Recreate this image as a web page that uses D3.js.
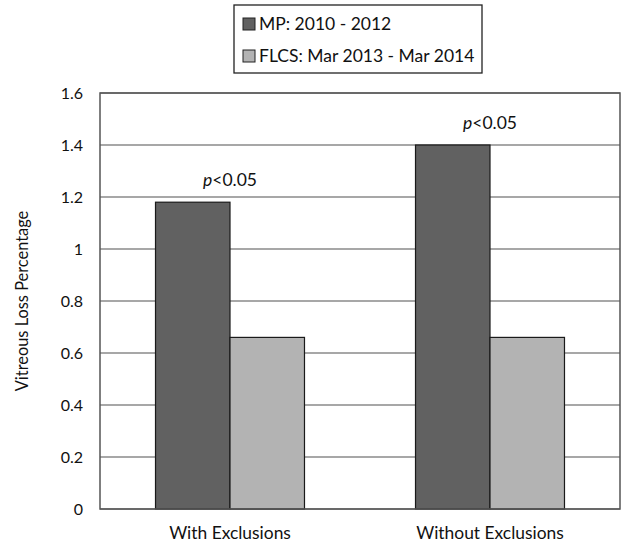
<!DOCTYPE html>
<html><head><meta charset="utf-8">
<script src="https://cdn.jsdelivr.net/npm/d3@7"></script>
<style>body{margin:0;background:#fff}svg{display:block}text{font-family:Lato,"Open Sans",sans-serif;fill:#111}</style>
</head><body><svg id="c" width="622" height="546"></svg>
<script>
const categories = ["With Exclusions", "Without Exclusions"];
const seriesNames = ["MP: 2010 - 2012", "FLCS: Mar 2013 - Mar 2014"];
const mpValues = [1.18, 1.40];
const flcsValues = [0.66, 0.66];
const annotations = ["p<0.05", "p<0.05"];
const yTicks = [0, 0.2, 0.4, 0.6, 0.8, 1, 1.2, 1.4, 1.6];
const colors = ["#616161", "#b3b3b3"];

const svg = d3.select("#c");
const L = 100, R = 620, T = 93, B = 509;
const y = d3.scaleLinear().domain([0, 1.6]).range([B, T]);
const x0 = d3.scaleBand().domain(categories).range([L, R]).paddingInner(0.427).paddingOuter(0.2135);
const x1 = d3.scaleBand().domain(seriesNames).range([0, x0.bandwidth()]);

// gridlines
svg.append("g").selectAll("line").data(yTicks).join("line")
  .attr("x1", L).attr("x2", R).attr("y1", d => y(d)).attr("y2", d => y(d))
  .attr("stroke", "#8a8a8a").attr("stroke-width", 1.3);

// bars
const data = categories.map((c, i) => ({c, vals: [mpValues[i], flcsValues[i]]}));
const g = svg.append("g").selectAll("g").data(data).join("g")
  .attr("transform", d => `translate(${x0(d.c)},0)`);
g.selectAll("rect").data(d => d.vals.map((v, j) => ({v, s: seriesNames[j], j}))).join("rect")
  .attr("x", d => x1(d.s)).attr("width", x1.bandwidth())
  .attr("y", d => y(d.v)).attr("height", d => y(0) - y(d.v))
  .attr("fill", d => colors[d.j]).attr("stroke", "#1a1a1a").attr("stroke-width", 1.2);

// annotations
data.forEach((d, i) => {
  const t = svg.append("text").attr("x", x0(d.c) + x0.bandwidth() / 2)
    .attr("y", y(d3.max(d.vals)) - 16).attr("text-anchor", "middle").attr("font-size", 17.5);
  const parts = annotations[i].split("<");
  t.append("tspan").attr("font-style", "italic").text(parts[0]);
  t.append("tspan").text("<" + parts[1]);
});

// plot border
svg.append("rect").attr("x", L).attr("y", T).attr("width", R - L).attr("height", B - T)
  .attr("fill", "none").attr("stroke", "#555").attr("stroke-width", 1.5);

// y axis
const yAxis = d3.axisLeft(y).tickValues(yTicks).tickSize(0).tickPadding(17)
  .tickFormat(d => String(d));
const ya = svg.append("g").attr("transform", `translate(${L},0)`).call(yAxis);
ya.select(".domain").remove();
ya.selectAll("text").attr("font-size", 16).attr("font-family", "Lato, 'Open Sans', sans-serif").attr("fill", "#111");

// x axis
const xAxis = d3.axisBottom(x0).tickSize(0).tickPadding(18);
const xa = svg.append("g").attr("transform", `translate(0,${B})`).call(xAxis);
xa.select(".domain").remove();
xa.selectAll("text").attr("font-size", 17.4).attr("font-family", "Lato, 'Open Sans', sans-serif").attr("fill", "#111");

// y title
svg.append("text").attr("transform", `translate(28,${(T + B) / 2}) rotate(-90)`)
  .attr("text-anchor", "middle").attr("font-size", 16.4).text("Vitreous Loss Percentage");

// legend
const lg = svg.append("g");
lg.append("rect").attr("x", 234).attr("y", 5).attr("width", 248).attr("height", 68)
  .attr("fill", "#fff").attr("stroke", "#222").attr("stroke-width", 1.3);
seriesNames.forEach((s, i) => {
  const yy = 18 + i * 32;
  lg.append("rect").attr("x", 243).attr("y", yy).attr("width", 12).attr("height", 12)
    .attr("fill", colors[i]).attr("stroke", "#222").attr("stroke-width", 1);
  lg.append("text").attr("x", 259).attr("y", yy + 12).attr("font-size", 17.5).text(s);
});
</script></body></html>
